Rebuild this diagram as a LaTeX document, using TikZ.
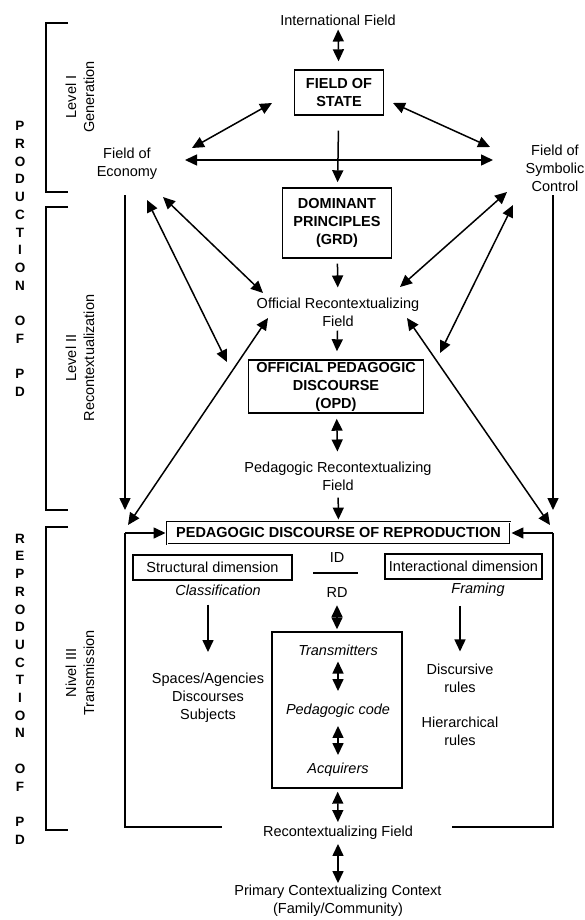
\documentclass[tikz,border=0pt]{standalone}
\usepackage{fontspec}
\setmainfont{Liberation Sans}
\usetikzlibrary{positioning, calc, arrows.meta}
\tikzstyle{Arrow} = [
line width=1.5pt,
-{Triangle[length=12pt, width=11pt]}]
\tikzstyle{DArrow} = [
line width=1.5pt,
{Triangle[length=12pt, width=11pt]}-{Triangle[length=12pt, width=11pt]}]
\tikzstyle{Box} = [draw, line width=1.4pt, inner sep=0pt, align=center, font=\bfseries]
\tikzstyle{SBox} = [draw, line width=1.4pt, inner sep=0pt, align=center]
\tikzstyle{Txt} = [inner sep=1pt, align=center]
\tikzstyle{Bracket} = [line width=1.4pt]
\tikzstyle{Letters} = [inner sep=0pt, align=center, font=\bfseries\fontsize{13.5}{17.7}\selectfont]

\begin{document}
\fontsize{14.5}{18}\selectfont
\begin{tikzpicture}[x=1pt, y=-1pt]
    \useasboundingbox (0,0) rectangle (585,920);
    % side labels
    \node [Letters] (prod) at (20,259) {P\\R\\O\\D\\U\\C\\T\\I\\O\\N\\[17.7pt]O\\F\\[17.7pt]P\\D};
    \node [Letters] (reprod) at (20,689) {R\\E\\P\\R\\O\\D\\U\\C\\T\\I\\O\\N\\[17.7pt]O\\F\\[17.7pt]P\\D};
    \node [Txt, rotate=90] (lev1) at (80,97) {Level I\\Generation};
    \node [Txt, rotate=90] (lev2) at (80,358) {Level II\\Recontextualization};
    \node [Txt, rotate=90] (lev3) at (80,673) {Nivel III\\Transmission};
    \draw [Bracket] (68,23) -- (46,23) -- (46,192) -- (68,192);
    \draw [Bracket] (68,207) -- (46,207) -- (46,510) -- (68,510);
    \draw [Bracket] (68,527) -- (46,527) -- (46,830) -- (68,830);
    % fields
    \node [Txt] (intl) at (338,20) {International Field};
    \node [Box, minimum width=89, minimum height=45] (state) at (339,92.5) {FIELD OF\\STATE};
    \node [Txt] (econ) at (127,164) {Field of\\Economy};
    \node [Txt] (symb) at (555,168) {Field of\\Symbolic\\Control};
    \node [Box, minimum width=109, minimum height=70] (grd) at (337,223) {DOMINANT\\PRINCIPLES\\(GRD)};
    \node [Txt] (orf) at (338,312) {Official Recontextualizing\\Field};
    \node [Box, minimum width=175, minimum height=53] (opd) at (336,386.5) {OFFICIAL PEDAGOGIC\\DISCOURSE\\(OPD)};
    \node [Txt] (prf) at (338,476) {Pedagogic Recontextualizing\\Field};
    \node [Box, double, line width=0.9pt, double distance=0.8pt, minimum width=343, minimum height=22] (pdr) at (338.5,533) {PEDAGOGIC DISCOURSE OF REPRODUCTION};
    % transmission frame
    \coordinate (ftl) at (125,533);
    \coordinate (ftr) at (553,533);
    \coordinate (fbl) at (125,827);
    \coordinate (fbr) at (553,827);
    \coordinate (fbl2) at (222,827);
    \coordinate (fbr2) at (452,827);
    \node [SBox, minimum width=159, minimum height=25] (struct) at (212.5,567.5) {Structural dimension};
    \node [Txt, font=\itshape] (classif) at (218,590) {Classification};
    \node [Txt] (spaces) at (208,698) {Spaces/Agencies\\Discourses\\Subjects};
    \node [Txt] (id) at (337,558) {ID};
    \node [Txt] (rd) at (337,593) {RD};
    \node [SBox, minimum width=157, minimum height=25] (inter) at (463.5,566.5) {Interactional dimension};
    \node [Txt, font=\itshape] (framing) at (478,590) {Framing};
    \node [Txt] (disc) at (460,678) {Discursive\\rules};
    \node [Txt] (hier) at (460,731) {Hierarchical\\rules};
    \node [SBox, minimum width=130, minimum height=156] (inner) at (337,710) {};
    \node [Txt, font=\itshape] (trans) at (338,650) {Transmitters};
    \node [Txt, font=\itshape] (pcode) at (338,711) {Pedagogic code};
    \node [Txt, font=\itshape] (acq) at (338,770) {Acquirers};
    \node [Txt] (rcf) at (338,833) {Recontextualizing Field};
    \node [Txt] (prim) at (338,901) {Primary Contextualizing Context\\(Family/Community)};
    % level I
    \draw [DArrow, shorten <=3pt, shorten >=8pt] (intl) -- (state);
    \draw [Arrow, shorten <=15pt, shorten >=5pt] (state) -- (grd);
    \draw [DArrow] ([shift={(58,-4)}]econ.center) -- ([shift={(-62,-8)}]symb.center);
    \draw [DArrow] ([shift={(65,-16)}]econ.center) -- ([shift={(-67,10.5)}]state.center);
    \draw [DArrow] ([shift={(54,10.5)}]state.center) -- ([shift={(-65,-21)}]symb.center);
    % level II
    \draw [Arrow, shorten <=5pt, shorten >=9pt] (grd) -- (orf);
    \draw [Arrow, shorten <=3pt, shorten >=8pt] (orf) -- (opd);
    \draw [DArrow, shorten <=5pt, shorten >=9pt] (opd) -- (prf);
    \draw [Arrow, shorten <=6pt, shorten >=2pt] (prf) -- (pdr);
    \draw [DArrow] ([shift={(36,33)}]econ.center) -- ([shift={(-75,-19)}]orf.center);
    \draw [DArrow] ([shift={(20,36)}]econ.center) -- ([shift={(-109,-24.5)}]opd.center);
    \draw [DArrow] ([shift={(-48,24)}]symb.center) -- ([shift={(62,-25)}]orf.center);
    \draw [DArrow] ([shift={(-42,37)}]symb.center) -- ([shift={(104,-33.5)}]opd.center);
    \draw [DArrow] ([shift={(-70,6)}]orf.center) -- ([shift={(3,-8)}]ftl);
    \draw [DArrow] ([shift={(69,6)}]orf.center) -- ([shift={(-3,-8)}]ftr);
    \draw [Arrow] ([shift={(-2,31)}]econ.center) -- ([shift={(0,-23)}]ftl);
    \draw [Arrow] ([shift={(-2,27)}]symb.center) -- ([shift={(0,-23)}]ftr);
    % level III
    \draw [Bracket] (fbl2) -- (fbl) -- (ftl);
    \draw [Bracket] (fbr2) -- (fbr) -- (ftr);
    \draw [Arrow, shorten >=1pt] (ftl) -- (pdr.west);
    \draw [Arrow, shorten >=1pt] (ftr) -- (pdr.east);
    \draw [Bracket] ([shift={(-24,15)}]id.center) -- ([shift={(21,15)}]id.center);
    \draw [Arrow, shorten <=8pt, shorten >=20pt] (spaces.north |- classif.south) -- (spaces.north);
    \draw [Arrow, shorten <=8pt, shorten >=11pt] (disc.north |- framing.south) -- (disc.north);
    \draw [DArrow, shorten <=6pt, shorten >=2pt] (rd) -- (inner);
    \draw [DArrow, shorten <=5pt, shorten >=12pt] (trans) -- (pcode);
    \draw [DArrow, shorten <=7pt, shorten >=7pt] (pcode) -- (acq);
    \draw [DArrow, shorten <=3pt, shorten >=3pt] (inner) -- (rcf);
    \draw [DArrow, shorten <=3pt, shorten >=1pt] (rcf) -- (prim);
\end{tikzpicture}
\end{document}
